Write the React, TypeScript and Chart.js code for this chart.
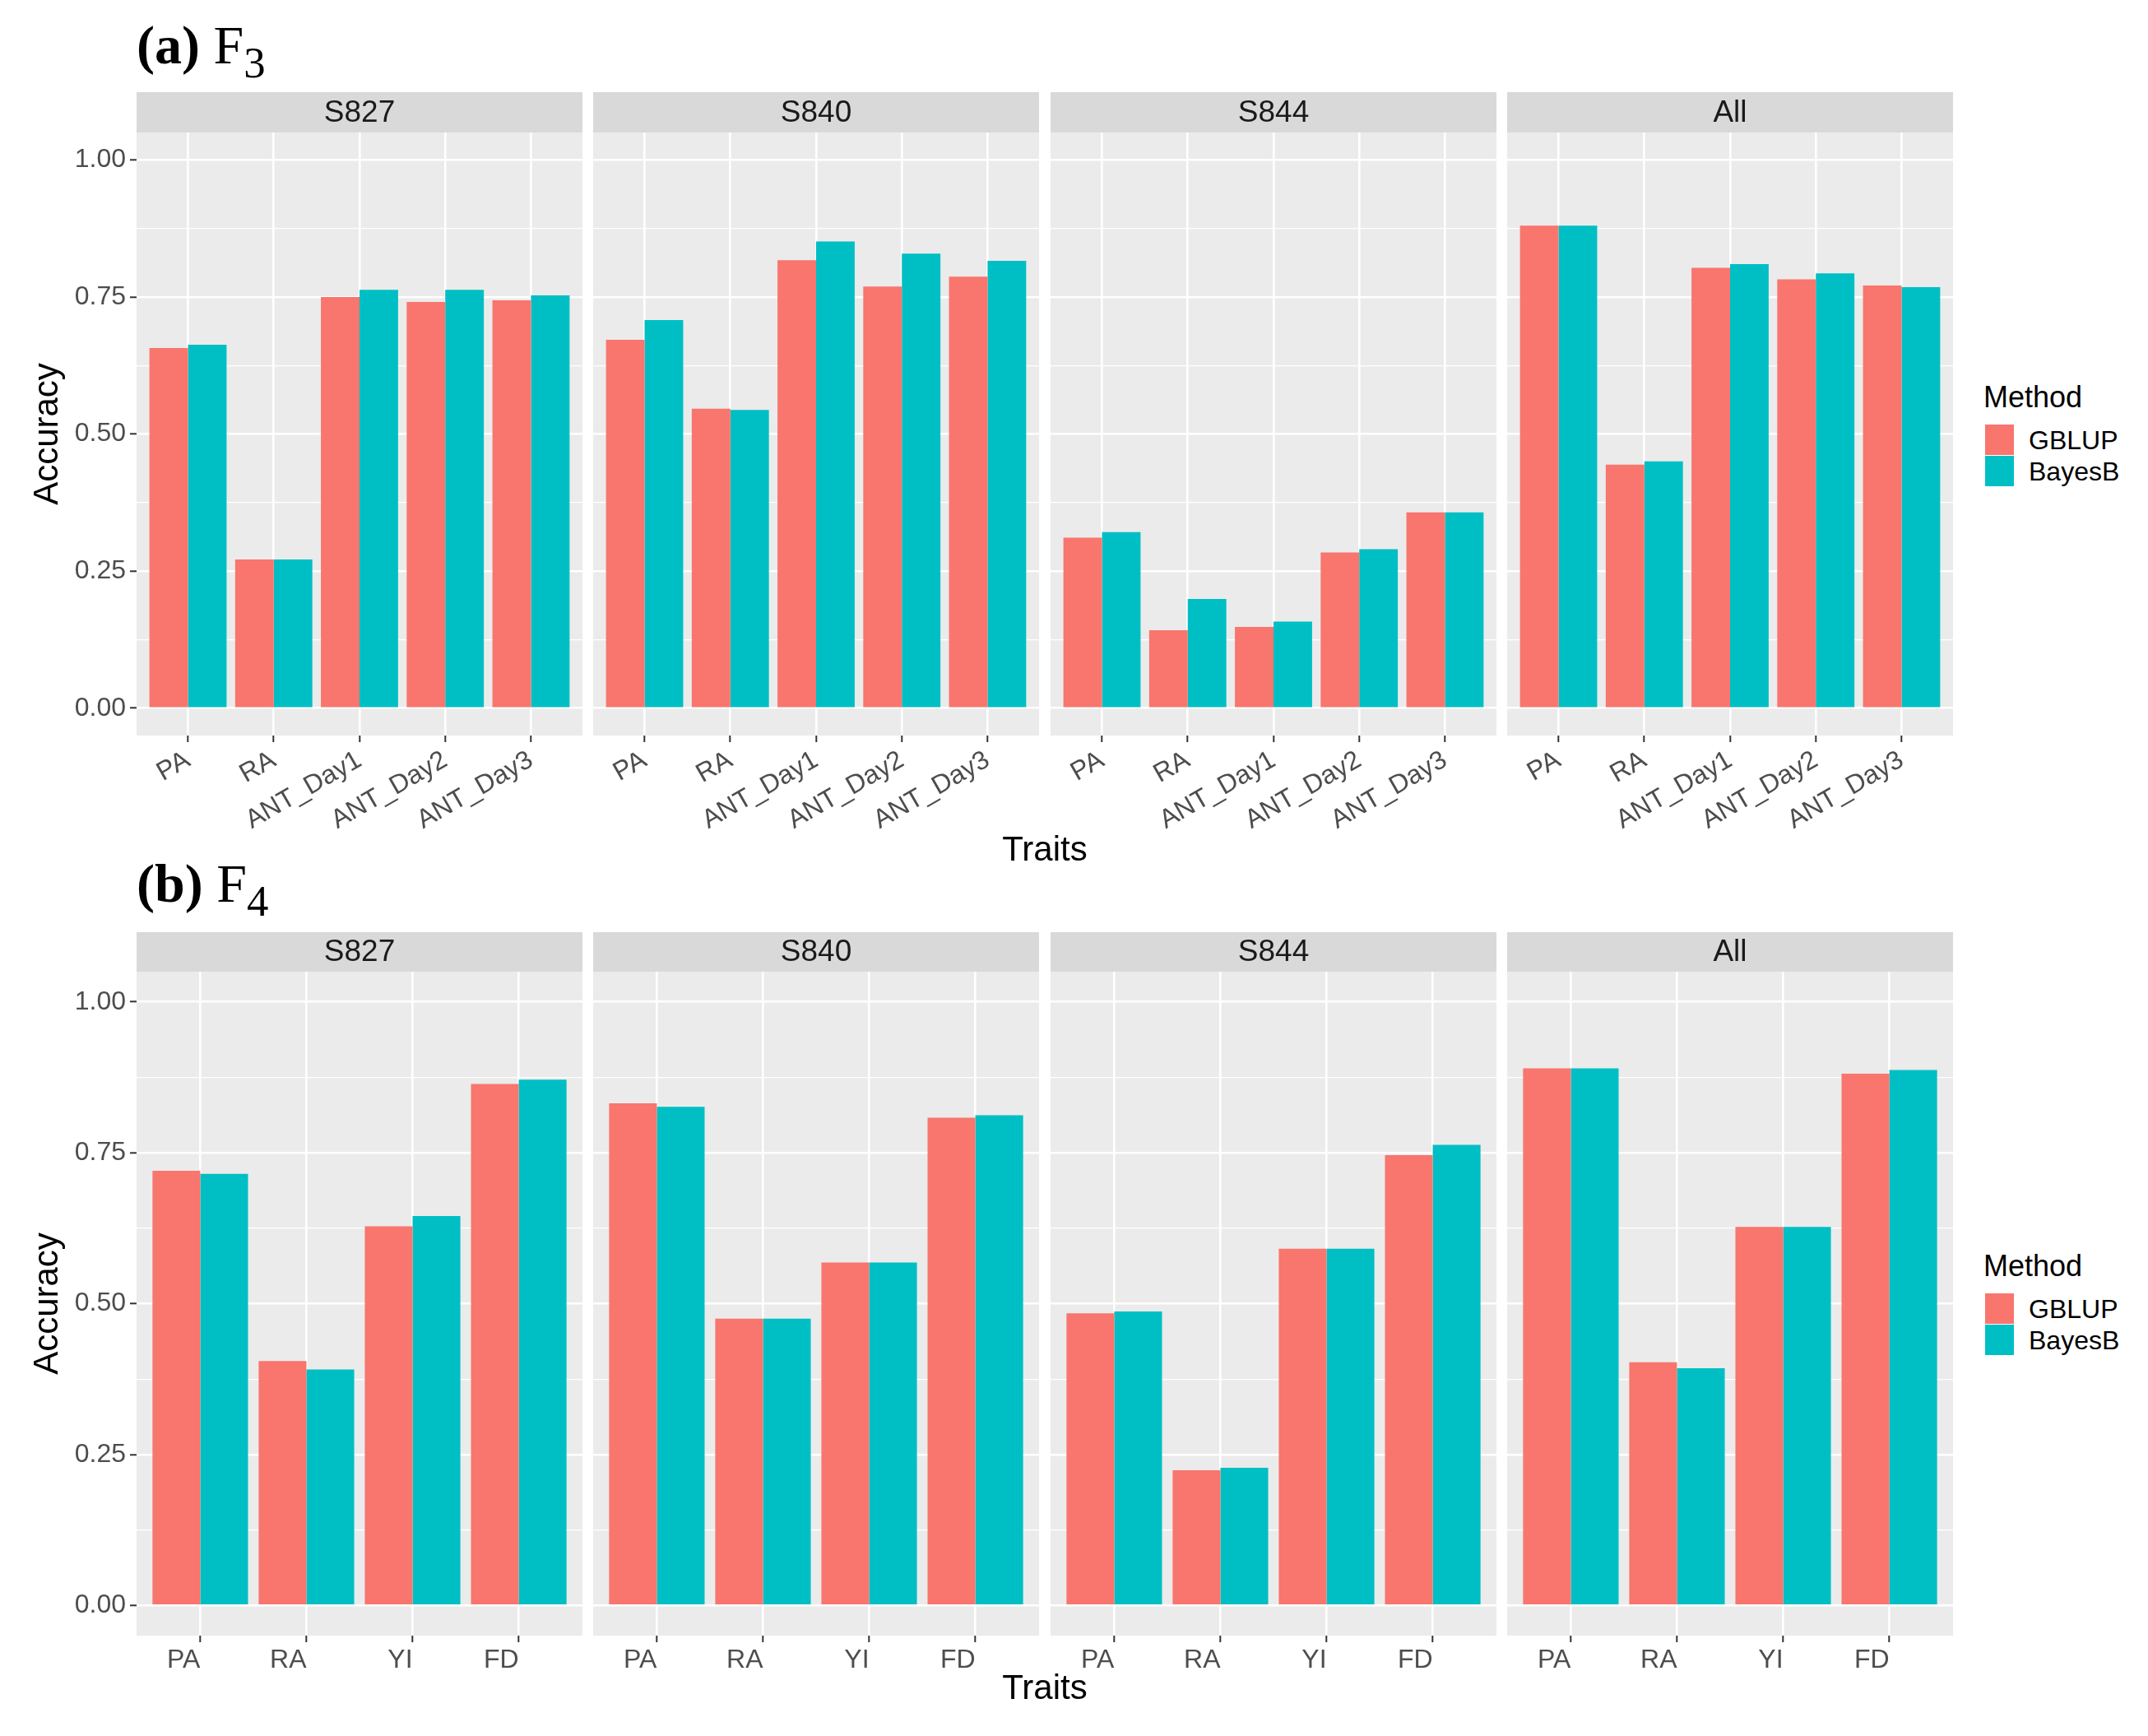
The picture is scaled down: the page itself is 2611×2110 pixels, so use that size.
import React, { useEffect, useRef } from 'react';
import { Chart, registerables } from 'chart.js';

Chart.register(...registerables);

// ---------- data ----------
const FACETS = ['S827', 'S840', 'S844', 'All'];
const METHODS = ['GBLUP', 'BayesB'];
const TRAITS_F3 = ['PA', 'RA', 'ANT_Day1', 'ANT_Day2', 'ANT_Day3'];
const TRAITS_F4 = ['PA', 'RA', 'YI', 'FD'];
const Y_MAJOR = [0, 0.25, 0.5, 0.75, 1.0];
const Y_MINOR = [0.125, 0.375, 0.625, 0.875];

// F3 – GBLUP
const f3GblupS827 = [0.657, 0.271, 0.750, 0.741, 0.744];
const f3GblupS840 = [0.672, 0.546, 0.817, 0.769, 0.787];
const f3GblupS844 = [0.311, 0.142, 0.148, 0.284, 0.357];
const f3GblupAll = [0.880, 0.444, 0.803, 0.782, 0.771];
// F3 – BayesB
const f3BayesS827 = [0.663, 0.271, 0.763, 0.763, 0.753];
const f3BayesS840 = [0.708, 0.544, 0.851, 0.829, 0.816];
const f3BayesS844 = [0.321, 0.199, 0.158, 0.290, 0.357];
const f3BayesAll = [0.880, 0.450, 0.810, 0.793, 0.768];

// F4 – GBLUP
const f4GblupS827 = [0.720, 0.405, 0.628, 0.864];
const f4GblupS840 = [0.832, 0.475, 0.568, 0.808];
const f4GblupS844 = [0.484, 0.224, 0.591, 0.746];
const f4GblupAll = [0.890, 0.403, 0.627, 0.881];
// F4 – BayesB
const f4BayesS827 = [0.715, 0.391, 0.645, 0.871];
const f4BayesS840 = [0.826, 0.475, 0.568, 0.812];
const f4BayesS844 = [0.487, 0.228, 0.591, 0.763];
const f4BayesAll = [0.890, 0.393, 0.627, 0.887];

const F3_G = [f3GblupS827, f3GblupS840, f3GblupS844, f3GblupAll];
const F3_B = [f3BayesS827, f3BayesS840, f3BayesS844, f3BayesAll];
const F4_G = [f4GblupS827, f4GblupS840, f4GblupS844, f4GblupAll];
const F4_B = [f4BayesS827, f4BayesS840, f4BayesS844, f4BayesAll];

// ---------- style ----------
const COL_G = '#F8766D';
const COL_B = '#00BFC4';
const SANS = '"Liberation Sans", Arial, Helvetica, sans-serif';
const SERIF = '"Liberation Serif", "Times New Roman", serif';
const TICK_FONT = 32;

const PANEL_LEFTS = [166, 721, 1277, 1832];
const PANEL_W = 542;
const PAD = 6;

const isMajor = (v: number) => Y_MAJOR.some((m) => Math.abs(m - v) < 1e-6);

const stripPlugin = {
  id: 'strip',
  beforeDraw(chart: any, _args: any, opts: any) {
    const { ctx, chartArea: a } = chart;
    ctx.save();
    ctx.fillStyle = '#EBEBEB';
    ctx.fillRect(a.left, a.top, a.right - a.left, a.bottom - a.top);
    ctx.fillStyle = '#D9D9D9';
    ctx.fillRect(a.left, a.top - opts.h, a.right - a.left, opts.h);
    ctx.fillStyle = '#1A1A1A';
    ctx.font = `37px ${SANS}`;
    ctx.textAlign = 'center';
    ctx.textBaseline = 'middle';
    ctx.fillText(opts.text, (a.left + a.right) / 2, a.top - opts.h / 2 + 1);
    ctx.restore();
  },
};

type FacetProps = {
  idx: number;
  top: number;
  stripH: number;
  panelH: number;
  xh: number;
  rot: number;
  traits: string[];
  g: number[];
  b: number[];
};

function Facet(p: FacetProps) {
  const ref = useRef<HTMLCanvasElement>(null);
  const showY = p.idx === 0;
  const padL = showY ? 0 : PAD;
  const yw = showY ? PANEL_LEFTS[0] : 0;
  const left = showY ? 0 : PANEL_LEFTS[p.idx] - PAD;
  const width = padL + yw + PANEL_W + PAD;
  const height = p.stripH + p.panelH + p.xh;

  useEffect(() => {
    const n = p.traits.length;
    const yTicks = [...Y_MAJOR, ...Y_MINOR].sort((a, b) => a - b);
    const chart = new Chart(ref.current as HTMLCanvasElement, {
      type: 'bar',
      data: {
        datasets: [
          {
            label: METHODS[0],
            data: p.traits.map((_, i) => ({ x: i + 1, y: p.g[i] })),
            backgroundColor: COL_G,
            borderWidth: 0,
            categoryPercentage: 0.9,
            barPercentage: 1,
          },
          {
            label: METHODS[1],
            data: p.traits.map((_, i) => ({ x: i + 1, y: p.b[i] })),
            backgroundColor: COL_B,
            borderWidth: 0,
            categoryPercentage: 0.9,
            barPercentage: 1,
          },
        ],
      } as any,
      options: {
        responsive: false,
        animation: false,
        devicePixelRatio: 1,
        layout: { padding: { left: padL, right: PAD, top: p.stripH, bottom: 0 } },
        plugins: {
          legend: { display: false },
          tooltip: { enabled: false },
          title: { display: false },
          strip: { h: p.stripH, text: FACETS[p.idx] },
        } as any,
        scales: {
          x: {
            type: 'linear',
            min: 0.4,
            max: n + 0.6,
            offset: false,
            afterBuildTicks: (s: any) => {
              s.ticks = p.traits.map((_, i) => ({ value: i + 1 }));
            },
            afterFit: (s: any) => {
              s.height = p.xh;
            },
            ticks: {
              autoSkip: false,
              maxRotation: p.rot,
              minRotation: p.rot,
              align: p.rot ? 'center' : 'end',
              padding: 3,
              color: '#4D4D4D',
              font: { family: SANS, size: TICK_FONT },
              callback: (_v: any, i: number) => p.traits[i],
            },
            grid: {
              color: '#FFFFFF',
              lineWidth: 2.6,
              offset: false,
              drawTicks: true,
              tickLength: 8,
              tickWidth: 2,
              tickColor: '#333333',
            },
            border: { display: false },
          },
          y: {
            type: 'linear',
            min: -0.05,
            max: 1.05,
            afterBuildTicks: (s: any) => {
              s.ticks = yTicks.map((v) => ({ value: v }));
            },
            afterFit: (s: any) => {
              s.width = yw;
            },
            ticks: {
              display: showY,
              autoSkip: false,
              padding: 5,
              color: '#4D4D4D',
              font: { family: SANS, size: TICK_FONT },
              callback: (v: any) => (isMajor(Number(v)) ? Number(v).toFixed(2) : ''),
            },
            grid: {
              color: '#FFFFFF',
              lineWidth: (c: any) => (c.tick && isMajor(c.tick.value) ? 2.6 : 1.3),
              drawTicks: showY,
              tickLength: 8,
              tickWidth: 2,
              tickColor: (c: any) =>
                c.tick && isMajor(c.tick.value) ? '#333333' : 'rgba(0,0,0,0)',
            },
            border: { display: false },
            title: {
              display: showY,
              text: 'Accuracy',
              color: '#000000',
              font: { family: SANS, size: 42 },
              padding: { top: 33, bottom: 0 },
            },
          },
        },
      } as any,
      plugins: [stripPlugin as any],
    });
    return () => chart.destroy();
  }, []);

  return (
    <canvas
      ref={ref}
      width={width}
      height={height}
      style={{ position: 'absolute', left, top: p.top, width, height }}
    />
  );
}

function Legend({ top }: { top: number }) {
  return (
    <>
      <div
        style={{
          position: 'absolute', left: 2411, top: top - 18, fontFamily: SANS,
          fontSize: 36, lineHeight: '36px', color: '#000', whiteSpace: 'nowrap',
        }}
      >
        Method
      </div>
      {METHODS.map((m, i) => (
        <React.Fragment key={m}>
          <div
            style={{
              position: 'absolute', left: 2413, top: top + 33 + i * 38, width: 35, height: 37,
              background: i === 0 ? COL_G : COL_B,
            }}
          />
          <div
            style={{
              position: 'absolute', left: 2466, top: top + 33 + i * 38 + 2, fontFamily: SANS,
              fontSize: 32, lineHeight: '34px', color: '#000', whiteSpace: 'nowrap',
            }}
          >
            {m}
          </div>
        </React.Fragment>
      ))}
    </>
  );
}

function PanelTitle({ top, letter, gen }: { top: number; letter: string; gen: string }) {
  return (
    <div
      style={{
        position: 'absolute', left: 166, top, fontFamily: SERIF, fontSize: 66,
        lineHeight: '66px', color: '#000', whiteSpace: 'nowrap',
      }}
    >
      <span style={{ fontWeight: 'bold' }}>({letter})</span> F
      <sub style={{ fontSize: '0.8em', verticalAlign: '-17px', lineHeight: 0 }}>{gen}</sub>
    </div>
  );
}

function AxisTitle({ cy, text }: { cy: number; text: string }) {
  return (
    <div
      style={{
        position: 'absolute', left: 1070, width: 400, top: cy - 21, textAlign: 'center',
        fontFamily: SANS, fontSize: 42, lineHeight: '42px', color: '#000',
      }}
    >
      {text}
    </div>
  );
}

export default function App() {
  return (
    <div
      style={{
        position: 'absolute', left: 0, top: 0, width: 2611, height: 2110,
        background: '#FFFFFF', overflow: 'hidden',
      }}
    >
      <PanelTitle top={22} letter="a" gen="3" />
      {FACETS.map((f, i) => (
        <Facet
          key={'t' + f}
          idx={i}
          top={112}
          stripH={49}
          panelH={733}
          xh={130}
          rot={30}
          traits={TRAITS_F3}
          g={F3_G[i]}
          b={F3_B[i]}
        />
      ))}
      <AxisTitle cy={1032} text="Traits" />
      <Legend top={483} />

      <PanelTitle top={1041} letter="b" gen="4" />
      {FACETS.map((f, i) => (
        <Facet
          key={'b' + f}
          idx={i}
          top={1133}
          stripH={48}
          panelH={807}
          xh={60}
          rot={0}
          traits={TRAITS_F4}
          g={F4_G[i]}
          b={F4_B[i]}
        />
      ))}
      <AxisTitle cy={2051} text="Traits" />
      <Legend top={1539} />
    </div>
  );
}
